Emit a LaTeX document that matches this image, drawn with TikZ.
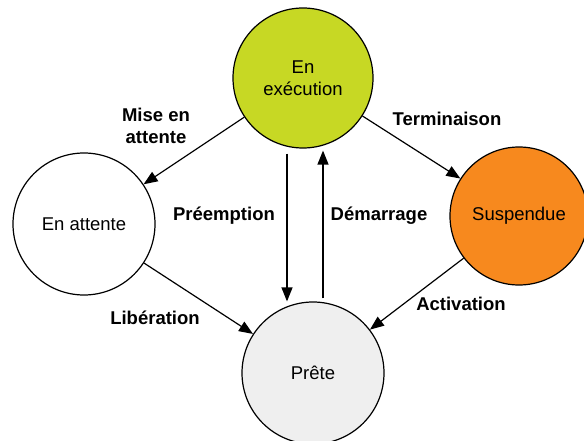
\documentclass[tikz,border=0pt]{standalone}
\usepackage{fontspec}
\setmainfont{Liberation Sans}
\usetikzlibrary{arrows.meta}
\definecolor{execgreen}{RGB}{199,216,36}
\definecolor{susporange}{RGB}{247,137,30}
\definecolor{pretegrey}{RGB}{239,239,239}
\tikzset{
  state/.style={circle, draw=black, line width=1.2pt, minimum size=140pt, inner sep=0pt,
    align=center, font=\fontsize{18.5}{21.5}\selectfont},
  lbl/.style={font=\fontsize{18.5}{22}\selectfont\bfseries, align=center, inner sep=0pt},
  conn/.style={line width=1.2pt, -{Triangle[length=14pt,width=11pt]}},
}
\begin{document}
\begin{tikzpicture}[x=1pt,y=-1pt]
\useasboundingbox (0,0) rectangle (584,441);
\node[state, fill=execgreen, minimum size=140pt] (exec) at (303,78) {En\\exécution};
\node[state, fill=white, minimum size=142pt] (attente) at (84,224) {En attente};
\node[state, fill=susporange, minimum size=138pt] (susp) at (519,216) {Suspendue};
\node[state, fill=pretegrey, minimum size=142pt] (prete) at (313,373) {Prête};

\draw[conn] (exec) -- (attente);
\draw[conn] (exec) -- (susp);
\draw[conn] (attente) -- (prete);
\draw[conn] (susp) -- (prete);
\draw[conn] ([xshift=-16pt,yshift=-5pt]exec.south) -- ([xshift=-26pt]prete.north);
\draw[conn] ([xshift=10pt,yshift=3pt]prete.north) -- ([xshift=20pt,yshift=-2pt]exec.south);

\node[lbl] (lmise) at (156,126) {Mise en\\attente};
\node[lbl] (lterm) at (447,119) {Terminaison};
\node[lbl] (lpre) at (224,216) {Préemption};
\node[lbl] (ldem) at (379,216) {Démarrage};
\node[lbl] (llib) at (155,318) {Libération};
\node[lbl] (lact) at (461,304) {Activation};
\end{tikzpicture}
\end{document}
